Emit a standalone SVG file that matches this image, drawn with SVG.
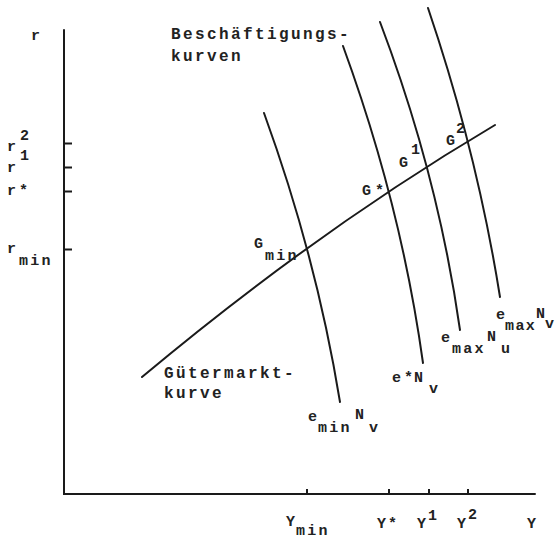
<svg xmlns="http://www.w3.org/2000/svg" width="555" height="540" viewBox="0 0 555 540">
<style>
.ln{fill:none;stroke:#1a1a1a;stroke-width:2;stroke-linecap:round}
.tk{fill:none;stroke:#1a1a1a;stroke-width:2}
.t{font-family:"Liberation Mono","DejaVu Sans Mono",monospace;font-size:15px;font-weight:bold;fill:#222;letter-spacing:2.2px}
.big{font-size:16px;letter-spacing:2.4px}
.tight{letter-spacing:1.4px}
.ns{letter-spacing:0}
</style>
<rect width="555" height="540" fill="#fff"/>
<g id="axes">
<path class="ln" d="M64,30 V494 H535"/>
<path class="tk" d="M64,143.5 H72 M64,167.5 H72 M64,191.5 H72 M64,249.5 H72"/>
<path class="tk" d="M307,494 V489 M389,494 V489 M429,494 V489 M468,494 V489"/>
</g>
<g id="connectors">
<path id="guetermarktkurve" class="ln" d="M142,377 Q318.5,229.4 495,125"/>
<path id="emin" class="ln" d="M264,113 Q316.5,257.5 340,402"/>
<path id="estar" class="ln" d="M343,46 Q401,204.5 423,363"/>
<path id="emaxu" class="ln" d="M380,22 Q438,175 460,330"/>
<path id="emaxv" class="ln" d="M428,8 Q477,152.5 500,297"/>
</g>
<g id="axis-labels">
<text class="t" x="31" y="40">r</text>
<text class="t"><tspan x="7" y="151">r</tspan><tspan x="20" y="140">2</tspan></text>
<text class="t"><tspan x="7" y="172">r</tspan><tspan x="20" y="160">1</tspan></text>
<text class="t"><tspan x="7" y="195">r</tspan><tspan x="19" y="195">*</tspan></text>
<text class="t"><tspan x="7" y="253">r</tspan><tspan x="19" y="265">min</tspan></text>
<text class="t"><tspan x="286" y="526">Y</tspan><tspan x="296" y="535">min</tspan></text>
<text class="t"><tspan x="377" y="528">Y</tspan><tspan x="388" y="528">*</tspan></text>
<text class="t"><tspan x="417" y="528">Y</tspan><tspan x="428" y="520">1</tspan></text>
<text class="t"><tspan x="457" y="528">Y</tspan><tspan x="468" y="519">2</tspan></text>
<text class="t" x="527" y="528">Y</text>
</g>
<g id="titles">
<text class="t big"><tspan x="171" y="39">Beschäftigungs-</tspan><tspan x="171" y="61">kurven</tspan></text>
<text class="t big"><tspan x="164" y="378">Gütermarkt-</tspan><tspan x="164" y="398">kurve</tspan></text>
</g>
<g id="points">
<text class="t"><tspan x="254" y="248">G</tspan><tspan x="265" y="260">min</tspan></text>
<text class="t"><tspan x="362" y="195">G</tspan><tspan x="375" y="195">*</tspan></text>
<text class="t"><tspan x="399" y="167">G</tspan><tspan x="411" y="154">1</tspan></text>
<text class="t"><tspan x="446" y="145">G</tspan><tspan x="456" y="133">2</tspan></text>
</g>
<g id="curve-labels">
<text class="t"><tspan x="308" y="421">e</tspan><tspan x="318" y="432">min</tspan><tspan x="355" y="419">N</tspan><tspan x="369" y="432">v</tspan></text>
<text class="t"><tspan x="392" y="382">e</tspan><tspan x="404" y="382">*</tspan><tspan x="414" y="382">N</tspan><tspan x="429" y="393">v</tspan></text>
<text class="t"><tspan x="441" y="342">e</tspan><tspan x="452" y="353">max</tspan><tspan x="487" y="341">N</tspan><tspan x="501" y="353">u</tspan></text>
<text class="t"><tspan x="496" y="319">e</tspan><tspan class="tight" x="505" y="330">max</tspan><tspan class="ns" x="536" y="318">N</tspan><tspan class="ns" x="545" y="328">v</tspan></text>
</g>
</svg>
